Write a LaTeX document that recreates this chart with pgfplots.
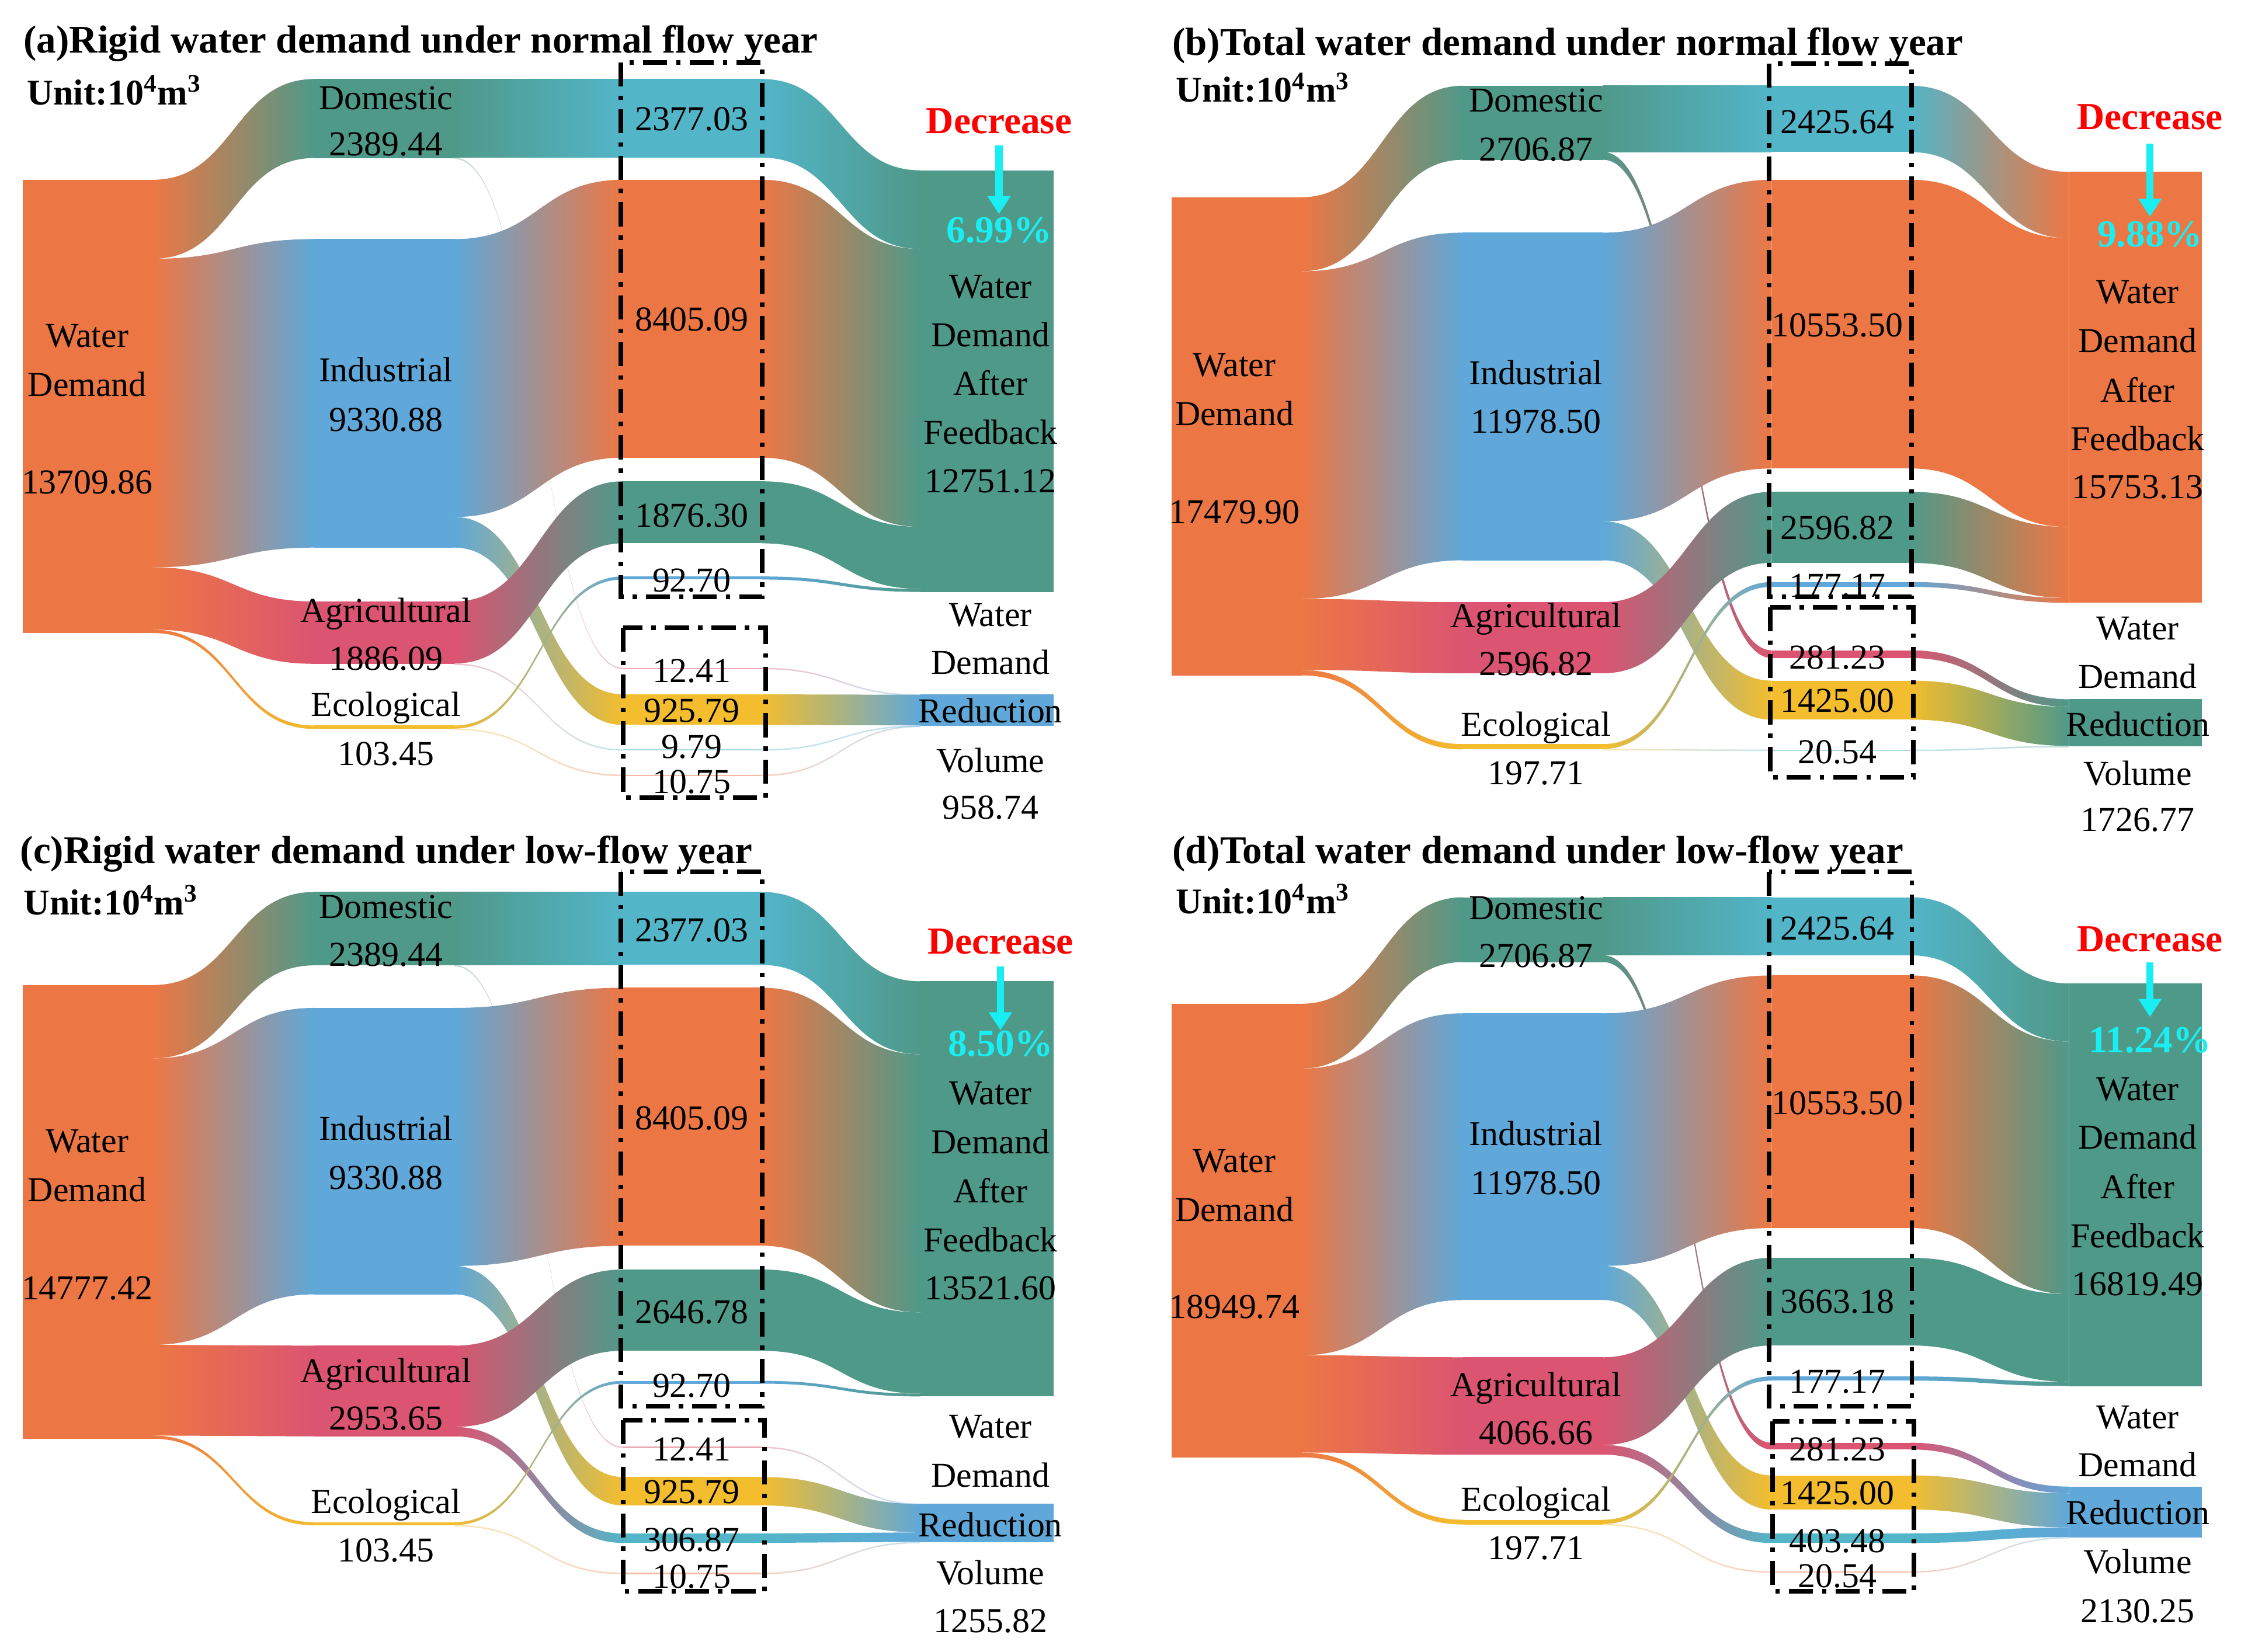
\documentclass[border=0pt]{standalone}
\usepackage{fontspec}
\setmainfont{Liberation Serif}
\usepackage{pgfplots}
\pgfplotsset{compat=1.18}
\usetikzlibrary{arrows.meta}
\definecolor{cO}{RGB}{237,119,68}
\definecolor{cG}{RGB}{79,153,137}
\definecolor{cB}{RGB}{95,168,217}
\definecolor{cP}{RGB}{219,84,113}
\definecolor{cY}{RGB}{244,189,45}
\definecolor{cT}{RGB}{82,181,200}
\definecolor{cC}{RGB}{25,238,242}
% column edges (px inside a panel)
\def\xa{16}\def\xb{107}\def\xc{220}\def\xd{318}\def\xe{436}\def\xf{533}\def\xg{644}\def\xh{737}
% flow: [opacity]{x1}{x2}{top1}{top2}{value}{colour from}{colour to}
\newcommand{\fl}[8][1]{%
 \shade[left color=#7,right color=#8,opacity=#1]
 (axis cs:#2,{#4}) .. controls (axis cs:{0.5*(#2+#3)},{#4}) and (axis cs:{0.5*(#2+#3)},{#5}) .. (axis cs:#3,{#5})
 -- (axis cs:#3,{#5+max(#6*\s,1)}) .. controls (axis cs:{0.5*(#2+#3)},{#5+max(#6*\s,1)}) and (axis cs:{0.5*(#2+#3)},{#4+max(#6*\s,1)}) .. (axis cs:#2,{#4+max(#6*\s,1)}) -- cycle;}
% node: [opacity]{x1}{x2}{top}{value}{colour}
\newcommand{\nd}[6][1]{\fill[#6,opacity=#1] (axis cs:#2,{#4}) rectangle (axis cs:#3,{#4+max(#5*\s,1)});}
\newcommand{\lb}[3]{\node[font=\fontsize{17.4}{19}\selectfont,text height=11.5pt,text depth=0pt,inner sep=0pt] at (axis cs:#1,#2) {#3};}
\newcommand{\ttl}[3]{\node[font=\bfseries\fontsize{19.5}{21}\selectfont,anchor=west,text height=13pt,text depth=0pt,inner sep=0pt] at (axis cs:#1,#2) {#3};}
\newcommand{\unit}[2]{\node[font=\bfseries\fontsize{18}{20}\selectfont,anchor=west,text height=12pt,text depth=0pt,inner sep=0pt] at (axis cs:#1,#2) {Unit:10\textsuperscript{4}m\textsuperscript{3}};}
\newcommand{\dec}[6]{%
 \node[font=\bfseries\fontsize{19}{20}\selectfont,text=red,text height=12.8pt,text depth=0pt,inner sep=0pt] at (axis cs:#1,#2) {Decrease};
 \draw[cC,line width=3.6pt,-{Triangle[width=11pt,length=9pt]}] (axis cs:#1,#3) -- (axis cs:#1,#4);
 \node[font=\bfseries\fontsize{19}{20}\selectfont,text=cC,text height=12.4pt,text depth=0pt,inner sep=0pt] at (axis cs:#1,#5) {#6};}
\newcommand{\bx}[4]{\draw[black,line width=2.3pt,dash pattern=on 12pt off 4.5pt on 2.2pt off 4.5pt] (axis cs:#1,#3) rectangle (axis cs:#2,#4);}
\pgfplotsset{panel/.style={anchor=north west,scale only axis,xmin=0,ymin=0,y dir=reverse,hide axis,clip=false}}
\begin{document}
\begin{tikzpicture}
\useasboundingbox (0,0) rectangle (39.2cm,-28.8925cm);
\fill[white] (0,0) rectangle (39.2cm,-28.8925cm);
%================ (a)
\def\s{0.023137}
\begin{axis}[panel,at={(0cm,0cm)},width=20.0925cm,height=14.185cm,xmax=803.7,ymax=567.4]
\fl{\xb}{\xc}{125.8}{55.3}{2389.44}{cO}{cG}
\fl{\xb}{\xc}{125.8+(2389.44)*\s}{167.3}{9330.88}{cO}{cB}
\fl{\xb}{\xc}{125.8+(2389.44+9330.88)*\s}{420.9}{1886.09}{cO}{cP}
\fl{\xb}{\xc}{125.8+(2389.44+9330.88+1886.09)*\s}{507.7}{103.45}{cO}{cY}
\fl{\xd}{\xe}{55.3}{55.3}{2377.03}{cG}{cT}
\fl[0.35]{\xd}{\xe}{55.3+(2377.03)*\s}{467.3}{12.41}{cG}{cP}
\fl{\xd}{\xe}{167.3}{125.8}{8405.09}{cB}{cO}
\fl{\xd}{\xe}{167.3+(8405.09)*\s}{485.9}{925.79}{cB}{cY}
\fl{\xd}{\xe}{420.9}{336.8}{1876.30}{cP}{cG}
\fl[0.35]{\xd}{\xe}{420.9+(1876.30)*\s}{524.3}{9.79}{cP}{cT}
\fl{\xd}{\xe}{507.7}{403.4}{92.70}{cY}{cB}
\fl[0.35]{\xd}{\xe}{507.7+(92.70)*\s}{542.1}{10.75}{cY}{cO}
\fl{\xf}{\xg}{55.3}{119.2}{2377.03}{cT}{cG}
\fl{\xf}{\xg}{125.8}{119.2+(2377.03)*\s}{8405.09}{cO}{cG}
\fl{\xf}{\xg}{336.8}{119.2+(2377.03+8405.09)*\s}{1876.30}{cG}{cG}
\fl{\xf}{\xg}{403.4}{119.2+(2377.03+8405.09+1876.30)*\s}{92.70}{cB}{cG}
\fl[0.35]{\xf}{\xg}{467.3}{485.9}{12.41}{cP}{cB}
\fl{\xf}{\xg}{485.9}{485.9+(12.41)*\s}{925.79}{cY}{cB}
\fl[0.35]{\xf}{\xg}{524.3}{485.9+(12.41+925.79)*\s}{9.79}{cT}{cB}
\fl[0.35]{\xf}{\xg}{542.1}{485.9+(12.41+925.79+9.79)*\s}{10.75}{cO}{cB}
\nd{\xa}{\xb}{125.8}{13709.86}{cO}
\nd{\xc}{\xd}{55.3}{2389.44}{cG}
\nd{\xc}{\xd}{167.3}{9330.88}{cB}
\nd{\xc}{\xd}{420.9}{1886.09}{cP}
\nd{\xc}{\xd}{507.7}{103.45}{cY}
\nd{\xe}{\xf}{55.3}{2377.03}{cT}
\nd{\xe}{\xf}{125.8}{8405.09}{cO}
\nd{\xe}{\xf}{336.8}{1876.30}{cG}
\nd{\xe}{\xf}{403.4}{92.70}{cB}
\nd[0.5]{\xe}{\xf}{467.3}{12.41}{cP}
\nd{\xe}{\xf}{485.9}{925.79}{cY}
\nd[0.5]{\xe}{\xf}{524.3}{9.79}{cT}
\nd[0.5]{\xe}{\xf}{542.1}{10.75}{cO}
\nd{\xg}{\xh}{119.2}{12751.12}{cG}
\nd{\xg}{\xh}{485.9}{958.74}{cB}
\ttl{16.3}{27.8}{(a)Rigid water demand under normal flow year}
\unit{18.8}{64.8}
\lb{61}{235}{Water}\lb{61}{269.1}{Demand}\lb{61}{337.5}{13709.86}
\lb{270}{68.5}{Domestic}\lb{270}{100.7}{2389.44}
\lb{270}{259.1}{Industrial}\lb{270}{293.5}{9330.88}
\lb{270}{427.5}{Agricultural}\lb{270}{460.8}{1886.09}
\lb{270}{493.3}{Ecological}\lb{270}{527.4}{103.45}
\lb{484}{83.3}{2377.03}\lb{484}{223.5}{8405.09}\lb{484}{360.8}{1876.30}\lb{484}{406}{92.70}
\lb{484}{469.3}{12.41}\lb{484}{497}{925.79}\lb{484}{522.5}{9.79}\lb{484}{547}{10.75}
\lb{693}{200.6}{Water}\lb{693}{234.3}{Demand}\lb{693}{268.3}{After}\lb{693}{302.7}{Feedback}\lb{693}{336.8}{12751.12}
\lb{693}{430}{Water}\lb{693}{463.7}{Demand}\lb{693}{497.8}{Reduction}\lb{693}{532.2}{Volume}\lb{693}{565.1}{958.74}
\dec{699}{84.4}{101.8}{149.9}{161}{6.99\%}
\bx{434.4}{533.4}{43.7}{417.5}
\bx{435.9}{535.9}{439.3}{558.1}
\end{axis}
%================ (b)
\def\s{0.019142}
\begin{axis}[panel,at={(20.0925cm,0cm)},width=19.1075cm,height=14.185cm,xmax=764.3,ymax=567.4]
\fl{\xb}{\xc}{138.0}{60.0}{2706.87}{cO}{cG}
\fl{\xb}{\xc}{138.0+(2706.87)*\s}{162.8}{11978.50}{cO}{cB}
\fl{\xb}{\xc}{138.0+(2706.87+11978.50)*\s}{421.4}{2596.82}{cO}{cP}
\fl{\xb}{\xc}{138.0+(2706.87+11978.50+2596.82)*\s}{520.7}{197.71}{cO}{cY}
\fl{\xd}{\xe}{60.0}{60.0}{2425.64}{cG}{cT}
\fl{\xd}{\xe}{60.0+(2425.64)*\s}{455.1}{281.23}{cG}{cP}
\fl{\xd}{\xe}{162.8}{125.8}{10553.50}{cB}{cO}
\fl{\xd}{\xe}{162.8+(10553.50)*\s}{476.3}{1425.00}{cB}{cY}
\fl{\xd}{\xe}{421.4}{344.2}{2596.82}{cP}{cG}
\fl{\xd}{\xe}{520.7}{407.3}{177.17}{cY}{cB}
\fl[0.35]{\xd}{\xe}{520.7+(177.17)*\s}{524.6}{20.54}{cY}{cT}
\fl{\xf}{\xg}{60.0}{120.3}{2425.64}{cT}{cO}
\fl{\xf}{\xg}{125.8}{120.3+(2425.64)*\s}{10553.50}{cO}{cO}
\fl{\xf}{\xg}{344.2}{120.3+(2425.64+10553.50)*\s}{2596.82}{cG}{cO}
\fl{\xf}{\xg}{407.3}{120.3+(2425.64+10553.50+2596.82)*\s}{177.17}{cB}{cO}
\fl{\xf}{\xg}{455.1}{489.3}{281.23}{cP}{cG}
\fl{\xf}{\xg}{476.3}{489.3+(281.23)*\s}{1425.00}{cY}{cG}
\fl[0.35]{\xf}{\xg}{524.6}{489.3+(281.23+1425.00)*\s}{20.54}{cT}{cG}
\nd{\xa}{\xb}{138.0}{17479.90}{cO}
\nd{\xc}{\xd}{60.0}{2706.87}{cG}
\nd{\xc}{\xd}{162.8}{11978.50}{cB}
\nd{\xc}{\xd}{421.4}{2596.82}{cP}
\nd{\xc}{\xd}{520.7}{197.71}{cY}
\nd{\xe}{\xf}{60.0}{2425.64}{cT}
\nd{\xe}{\xf}{125.8}{10553.50}{cO}
\nd{\xe}{\xf}{344.2}{2596.82}{cG}
\nd{\xe}{\xf}{407.3}{177.17}{cB}
\nd{\xe}{\xf}{455.1}{281.23}{cP}
\nd{\xe}{\xf}{476.3}{1425.00}{cY}
\nd[0.5]{\xe}{\xf}{524.6}{20.54}{cT}
\nd{\xg}{\xh}{120.3}{15753.13}{cO}
\nd{\xg}{\xh}{489.3}{1726.77}{cG}
\ttl{16.3}{29.6}{(b)Total water demand under normal flow year}
\unit{18.8}{62.9}
\lb{60}{255.4}{Water}\lb{60}{289.8}{Demand}\lb{60}{358.3}{17479.90}
\lb{271}{70.3}{Domestic}\lb{271}{104.4}{2706.87}
\lb{271}{260.9}{Industrial}\lb{271}{295}{11978.50}
\lb{271}{431.2}{Agricultural}\lb{271}{464.5}{2596.82}
\lb{271}{507}{Ecological}\lb{271}{541.1}{197.71}
\lb{482}{85.1}{2425.64}\lb{482}{227.6}{10553.50}\lb{482}{369.4}{2596.82}\lb{482}{409.7}{177.17}
\lb{482}{460}{281.23}\lb{482}{490.4}{1425.00}\lb{482}{526.3}{20.54}
\lb{692}{204.3}{Water}\lb{692}{238.7}{Demand}\lb{692}{273.1}{After}\lb{692}{307.2}{Feedback}\lb{692}{340.5}{15753.13}
\lb{692}{439.7}{Water}\lb{692}{473.7}{Demand}\lb{692}{507}{Reduction}\lb{692}{541.4}{Volume}\lb{692}{573.6}{1726.77}
\dec{700.6}{81.4}{100.7}{151.7}{164}{9.88\%}
\bx{434.1}{533.9}{44.4}{417.5}
\bx{435}{535}{424.9}{544}
\end{axis}
%================ (c)
\def\s{0.021486}
\begin{axis}[panel,at={(0cm,-14.185cm)},width=20.0925cm,height=14.7075cm,xmax=803.7,ymax=588.3]
\fl{\xb}{\xc}{121.9}{56.8}{2389.44}{cO}{cG}
\fl{\xb}{\xc}{121.9+(2389.44)*\s}{137.9}{9330.88}{cO}{cB}
\fl{\xb}{\xc}{121.9+(2389.44+9330.88)*\s}{374.3}{2953.65}{cO}{cP}
\fl{\xb}{\xc}{121.9+(2389.44+9330.88+2953.65)*\s}{497.8}{103.45}{cO}{cY}
\fl{\xd}{\xe}{56.8}{56.8}{2377.03}{cG}{cT}
\fl[0.35]{\xd}{\xe}{56.8+(2377.03)*\s}{445.0}{12.41}{cG}{cP}
\fl{\xd}{\xe}{137.9}{123.8}{8405.09}{cB}{cO}
\fl{\xd}{\xe}{137.9+(8405.09)*\s}{466.2}{925.79}{cB}{cY}
\fl{\xd}{\xe}{374.3}{321.0}{2646.78}{cP}{cG}
\fl{\xd}{\xe}{374.3+(2646.78)*\s}{505.7}{306.87}{cP}{cT}
\fl{\xd}{\xe}{497.8}{398.9}{92.70}{cY}{cB}
\fl[0.35]{\xd}{\xe}{497.8+(92.70)*\s}{533.2}{10.75}{cY}{cO}
\fl{\xf}{\xg}{56.8}{119.3}{2377.03}{cT}{cG}
\fl{\xf}{\xg}{123.8}{119.3+(2377.03)*\s}{8405.09}{cO}{cG}
\fl{\xf}{\xg}{321.0}{119.3+(2377.03+8405.09)*\s}{2646.78}{cG}{cG}
\fl{\xf}{\xg}{398.9}{119.3+(2377.03+8405.09+2646.78)*\s}{92.70}{cB}{cG}
\fl[0.35]{\xf}{\xg}{445.0}{484.8}{12.41}{cP}{cB}
\fl{\xf}{\xg}{466.2}{484.8+(12.41)*\s}{925.79}{cY}{cB}
\fl{\xf}{\xg}{505.7}{484.8+(12.41+925.79)*\s}{306.87}{cT}{cB}
\fl[0.35]{\xf}{\xg}{533.2}{484.8+(12.41+925.79+306.87)*\s}{10.75}{cO}{cB}
\nd{\xa}{\xb}{121.9}{14777.42}{cO}
\nd{\xc}{\xd}{56.8}{2389.44}{cG}
\nd{\xc}{\xd}{137.9}{9330.88}{cB}
\nd{\xc}{\xd}{374.3}{2953.65}{cP}
\nd{\xc}{\xd}{497.8}{103.45}{cY}
\nd{\xe}{\xf}{56.8}{2377.03}{cT}
\nd{\xe}{\xf}{123.8}{8405.09}{cO}
\nd{\xe}{\xf}{321.0}{2646.78}{cG}
\nd{\xe}{\xf}{398.9}{92.70}{cB}
\nd[0.5]{\xe}{\xf}{445.0}{12.41}{cP}
\nd{\xe}{\xf}{466.2}{925.79}{cY}
\nd{\xe}{\xf}{505.7}{306.87}{cT}
\nd[0.5]{\xe}{\xf}{533.2}{10.75}{cO}
\nd{\xg}{\xh}{119.3}{13521.60}{cG}
\nd{\xg}{\xh}{484.8}{1255.82}{cB}
\ttl{13.9}{27.8}{(c)Rigid water demand under low-flow year}
\unit{16.3}{64.2}
\lb{61}{231}{Water}\lb{61}{265.2}{Demand}\lb{61}{334.1}{14777.42}
\lb{270}{67.2}{Domestic}\lb{270}{100.7}{2389.44}
\lb{270}{222.4}{Industrial}\lb{270}{256.7}{9330.88}
\lb{270}{391.8}{Agricultural}\lb{270}{425.2}{2953.65}
\lb{270}{483.7}{Ecological}\lb{270}{517.5}{103.45}
\lb{484}{83.6}{2377.03}\lb{484}{215}{8405.09}\lb{484}{350.8}{2646.78}\lb{484}{402.2}{92.70}
\lb{484}{446.8}{12.41}\lb{484}{476.6}{925.79}\lb{484}{510}{306.87}\lb{484}{536}{10.75}
\lb{693}{197.5}{Water}\lb{693}{231.7}{Demand}\lb{693}{266.3}{After}\lb{693}{300.6}{Feedback}\lb{693}{334.1}{13521.60}
\lb{693}{430.8}{Water}\lb{693}{465.1}{Demand}\lb{693}{499.7}{Reduction}\lb{693}{533.2}{Volume}\lb{693}{566.7}{1255.82}
\dec{700}{91}{108.9}{153.6}{162.9}{8.50\%}
\bx{434.4}{533.4}{42.7}{416.7}
\bx{435.9}{534.9}{426.4}{546.2}
\end{axis}
%================ (d)
\def\s{0.01675}
\begin{axis}[panel,at={(20.0925cm,-14.185cm)},width=19.1075cm,height=14.7075cm,xmax=764.3,ymax=588.3]
\fl{\xb}{\xc}{135.0}{60.5}{2706.87}{cO}{cG}
\fl{\xb}{\xc}{135.0+(2706.87)*\s}{141.7}{11978.50}{cO}{cB}
\fl{\xb}{\xc}{135.0+(2706.87+11978.50)*\s}{382.4}{4066.66}{cO}{cP}
\fl{\xb}{\xc}{135.0+(2706.87+11978.50+4066.66)*\s}{496.1}{197.71}{cO}{cY}
\fl{\xd}{\xe}{60.5}{60.5}{2425.64}{cG}{cT}
\fl{\xd}{\xe}{60.5+(2425.64)*\s}{442.2}{281.23}{cG}{cP}
\fl{\xd}{\xe}{141.7}{115.2}{10553.50}{cB}{cO}
\fl{\xd}{\xe}{141.7+(10553.50)*\s}{465.1}{1425.00}{cB}{cY}
\fl{\xd}{\xe}{382.4}{312.8}{3663.18}{cP}{cG}
\fl{\xd}{\xe}{382.4+(3663.18)*\s}{505.6}{403.48}{cP}{cT}
\fl{\xd}{\xe}{496.1}{395.8}{177.17}{cY}{cB}
\fl[0.35]{\xd}{\xe}{496.1+(177.17)*\s}{532.2}{20.54}{cY}{cO}
\fl{\xf}{\xg}{60.5}{120.8}{2425.64}{cT}{cG}
\fl{\xf}{\xg}{115.2}{120.8+(2425.64)*\s}{10553.50}{cO}{cG}
\fl{\xf}{\xg}{312.8}{120.8+(2425.64+10553.50)*\s}{3663.18}{cG}{cG}
\fl{\xf}{\xg}{395.8}{120.8+(2425.64+10553.50+3663.18)*\s}{177.17}{cB}{cG}
\fl{\xf}{\xg}{442.2}{472.9}{281.23}{cP}{cB}
\fl{\xf}{\xg}{465.1}{472.9+(281.23)*\s}{1425.00}{cY}{cB}
\fl{\xf}{\xg}{505.6}{472.9+(281.23+1425.00)*\s}{403.48}{cT}{cB}
\fl[0.35]{\xf}{\xg}{532.2}{472.9+(281.23+1425.00+403.48)*\s}{20.54}{cO}{cB}
\nd{\xa}{\xb}{135.0}{18949.74}{cO}
\nd{\xc}{\xd}{60.5}{2706.87}{cG}
\nd{\xc}{\xd}{141.7}{11978.50}{cB}
\nd{\xc}{\xd}{382.4}{4066.66}{cP}
\nd{\xc}{\xd}{496.1}{197.71}{cY}
\nd{\xe}{\xf}{60.5}{2425.64}{cT}
\nd{\xe}{\xf}{115.2}{10553.50}{cO}
\nd{\xe}{\xf}{312.8}{3663.18}{cG}
\nd{\xe}{\xf}{395.8}{177.17}{cB}
\nd{\xe}{\xf}{442.2}{281.23}{cP}
\nd{\xe}{\xf}{465.1}{1425.00}{cY}
\nd{\xe}{\xf}{505.6}{403.48}{cT}
\nd[0.5]{\xe}{\xf}{532.2}{20.54}{cO}
\nd{\xg}{\xh}{120.8}{16819.49}{cG}
\nd{\xg}{\xh}{472.9}{2130.25}{cB}
\ttl{16.3}{27.8}{(d)Total water demand under low-flow year}
\unit{18.8}{63.5}
\lb{60}{244.7}{Water}\lb{60}{279}{Demand}\lb{60}{347.1}{18949.74}
\lb{271}{68}{Domestic}\lb{271}{101.5}{2706.87}
\lb{271}{226.1}{Industrial}\lb{271}{260.4}{11978.50}
\lb{271}{401.8}{Agricultural}\lb{271}{435.3}{4066.66}
\lb{271}{481.8}{Ecological}\lb{271}{515.7}{197.71}
\lb{482}{82.1}{2425.64}\lb{482}{204.6}{10553.50}\lb{482}{343.4}{3663.18}\lb{482}{399.2}{177.17}
\lb{482}{446.8}{281.23}\lb{482}{477.3}{1425.00}\lb{482}{511}{403.48}\lb{482}{535.5}{20.54}
\lb{692}{194.5}{Water}\lb{692}{228.7}{Demand}\lb{692}{263.4}{After}\lb{692}{297.6}{Feedback}\lb{692}{331.1}{16819.49}
\lb{692}{424.1}{Water}\lb{692}{457.6}{Demand}\lb{692}{491.1}{Reduction}\lb{692}{525.7}{Volume}\lb{692}{560}{2130.25}
\dec{700.6}{89.6}{105.9}{144.3}{160.3}{11.24\%}
\bx{434}{534}{42.7}{416.7}
\bx{436.6}{535.5}{427.1}{546.2}
\end{axis}
\end{tikzpicture}
\end{document}
